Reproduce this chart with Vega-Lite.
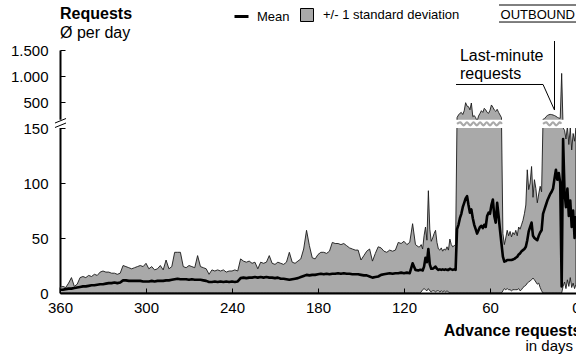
{
  "$schema": "https://vega.github.io/schema/vega-lite/v6.json",
  "width": 516,
  "height": 243,
  "autosize": {"type": "none"},
  "padding": {"left": 60, "top": 50, "right": 0, "bottom": 62},
  "background": "white",
  "config": {
    "font": "Liberation Sans",
    "view": {"stroke": null},
    "axis": {"grid": false, "domainColor": "black", "domainWidth": 2, "tickColor": "black", "tickWidth": 1, "tickSize": -5, "labelColor": "black", "labelFontSize": 15, "labelFont": "Liberation Sans", "labelBound": false, "labelOverlap": false, "labelFlush": false},
    "legend": {"labelFontSize": 13, "labelColor": "black", "labelFont": "Liberation Sans", "padding": 0, "title": null},
    "text": {"color": "black", "font": "Liberation Sans", "baseline": "alphabetic"},
    "rule": {"color": "black", "strokeWidth": 1}
  },
  "datasets": {
    "req": [
      {"d":360,"m":3,"hi":5,"lo":0},{"d":358,"m":3,"hi":6,"lo":0},{"d":356,"m":3.5,"hi":5,"lo":0},{"d":354,"m":4,"hi":9,"lo":0},
      {"d":352,"m":4,"hi":14,"lo":0},{"d":350,"m":4.5,"hi":6,"lo":0},{"d":348,"m":5,"hi":8,"lo":0},{"d":346,"m":5.5,"hi":14,"lo":0},
      {"d":344,"m":6,"hi":15,"lo":0},{"d":342,"m":6,"hi":14,"lo":0},{"d":340,"m":6.5,"hi":16,"lo":0},{"d":338,"m":7,"hi":15,"lo":0},
      {"d":336,"m":7,"hi":17,"lo":0},{"d":334,"m":7.5,"hi":16,"lo":0},{"d":332,"m":8,"hi":19,"lo":0},{"d":330,"m":8,"hi":20,"lo":0},
      {"d":328,"m":8.5,"hi":19,"lo":0},{"d":326,"m":9,"hi":19,"lo":0},{"d":324,"m":9,"hi":18,"lo":0},{"d":322,"m":9.5,"hi":18,"lo":0},
      {"d":320,"m":9,"hi":17,"lo":0},{"d":318,"m":9.5,"hi":18,"lo":0},{"d":316,"m":11.5,"hi":25,"lo":0},{"d":314,"m":11.5,"hi":24,"lo":0},
      {"d":312,"m":11,"hi":23,"lo":0},{"d":310,"m":11,"hi":22,"lo":0},{"d":308,"m":11,"hi":23,"lo":0},{"d":306,"m":11,"hi":24,"lo":0},
      {"d":304,"m":11,"hi":25,"lo":0},{"d":302,"m":10.5,"hi":24,"lo":0},{"d":300,"m":10.5,"hi":27,"lo":0},{"d":298,"m":10.5,"hi":22,"lo":0},
      {"d":296,"m":11,"hi":24,"lo":0},{"d":294,"m":10.5,"hi":21,"lo":0},{"d":292,"m":11,"hi":22,"lo":0},{"d":290,"m":11,"hi":25,"lo":0},
      {"d":288,"m":11,"hi":21,"lo":0},{"d":286,"m":11.5,"hi":30,"lo":0},{"d":284,"m":11.5,"hi":22,"lo":0},{"d":282,"m":12,"hi":24,"lo":0},
      {"d":280,"m":12.5,"hi":37,"lo":0},{"d":278,"m":13,"hi":37,"lo":0},{"d":276,"m":12.5,"hi":37,"lo":0},{"d":274,"m":12.5,"hi":24,"lo":0},
      {"d":272,"m":12.5,"hi":23,"lo":0},{"d":270,"m":12,"hi":25,"lo":0},{"d":268,"m":12.5,"hi":24,"lo":0},{"d":266,"m":12,"hi":23,"lo":0},
      {"d":264,"m":12,"hi":34,"lo":0},{"d":262,"m":12,"hi":24,"lo":0},{"d":260,"m":11.5,"hi":23,"lo":0},{"d":258,"m":11,"hi":22,"lo":0},
      {"d":256,"m":10,"hi":17,"lo":0},{"d":254,"m":10,"hi":21,"lo":0},{"d":252,"m":10.5,"hi":20,"lo":0},{"d":250,"m":10,"hi":21,"lo":0},
      {"d":248,"m":10.5,"hi":20,"lo":0},{"d":246,"m":10,"hi":21,"lo":0},{"d":244,"m":10.5,"hi":19,"lo":0},{"d":242,"m":10,"hi":20,"lo":0},
      {"d":240,"m":10.5,"hi":20,"lo":0},{"d":238,"m":10,"hi":21,"lo":0},{"d":236,"m":10.5,"hi":20,"lo":0},{"d":234,"m":13.5,"hi":31,"lo":0},
      {"d":232,"m":14,"hi":29,"lo":0},{"d":230,"m":13.5,"hi":28,"lo":0},{"d":228,"m":14,"hi":29,"lo":0},{"d":226,"m":14,"hi":27,"lo":0},
      {"d":224,"m":14.5,"hi":28,"lo":0},{"d":222,"m":14,"hi":22,"lo":0},{"d":220,"m":14.5,"hi":28,"lo":0},{"d":218,"m":14,"hi":27,"lo":0},
      {"d":216,"m":14.5,"hi":28,"lo":0},{"d":214,"m":14,"hi":34,"lo":0},{"d":212,"m":14,"hi":27,"lo":0},{"d":210,"m":13.5,"hi":26,"lo":0},
      {"d":208,"m":14,"hi":28,"lo":0},{"d":206,"m":13,"hi":27,"lo":0},{"d":204,"m":13,"hi":26,"lo":0},{"d":202,"m":12.5,"hi":28,"lo":0},
      {"d":200,"m":12,"hi":37,"lo":0},{"d":198,"m":12.5,"hi":28,"lo":0},{"d":196,"m":13,"hi":27,"lo":0},{"d":194,"m":13.5,"hi":29,"lo":0},
      {"d":192,"m":14.5,"hi":31,"lo":0},{"d":190,"m":15.5,"hi":40,"lo":0},{"d":188,"m":16.5,"hi":57,"lo":0},{"d":186,"m":16,"hi":43,"lo":0},
      {"d":184,"m":16.5,"hi":32,"lo":0},{"d":182,"m":16.5,"hi":31,"lo":0},{"d":180,"m":17,"hi":35,"lo":0},{"d":178,"m":17.5,"hi":37,"lo":0},
      {"d":176,"m":17,"hi":37,"lo":0},{"d":174,"m":17.5,"hi":36,"lo":0},{"d":172,"m":17,"hi":38,"lo":0},{"d":170,"m":17.5,"hi":46,"lo":0},
      {"d":168,"m":17.5,"hi":45,"lo":0},{"d":166,"m":18,"hi":45,"lo":0},{"d":164,"m":17.5,"hi":44,"lo":0},{"d":162,"m":18,"hi":45,"lo":0},
      {"d":160,"m":17.5,"hi":43,"lo":0},{"d":158,"m":17.5,"hi":41,"lo":0},{"d":156,"m":17,"hi":40,"lo":0},{"d":154,"m":17,"hi":39,"lo":0},
      {"d":152,"m":17,"hi":39,"lo":0},{"d":150,"m":16.5,"hi":30,"lo":0},{"d":148,"m":16,"hi":34,"lo":0},{"d":146,"m":16,"hi":38,"lo":0},
      {"d":144,"m":15,"hi":40,"lo":0},{"d":142,"m":14,"hi":29,"lo":0},{"d":140,"m":14.5,"hi":36,"lo":0},{"d":138,"m":15,"hi":42,"lo":0},
      {"d":136,"m":16.5,"hi":41,"lo":0},{"d":134,"m":17,"hi":38,"lo":0},{"d":132,"m":17.5,"hi":37,"lo":0},{"d":130,"m":18,"hi":39,"lo":0},
      {"d":128,"m":17.5,"hi":38,"lo":0},{"d":126,"m":18,"hi":39,"lo":0},{"d":124,"m":18,"hi":46,"lo":0},{"d":122,"m":18.5,"hi":45,"lo":0},
      {"d":120,"m":18,"hi":47,"lo":0},{"d":118,"m":18.5,"hi":44,"lo":0},{"d":116,"m":18,"hi":46,"lo":0},{"d":114,"m":27,"hi":63,"lo":0},
      {"d":112,"m":21,"hi":44,"lo":0},{"d":110,"m":20.5,"hi":42,"lo":0},
      {"d":109,"m":21,"hi":42,"lo":0},{"d":108,"m":21,"hi":44,"lo":1},{"d":107,"m":20.5,"hi":40,"lo":3},{"d":106,"m":24,"hi":52,"lo":4},
      {"d":105,"m":32,"hi":60,"lo":3},{"d":104,"m":28,"hi":48,"lo":2},{"d":103,"m":40,"hi":93,"lo":4},{"d":102,"m":26,"hi":58,"lo":2},
      {"d":101,"m":22,"hi":47,"lo":1},{"d":100,"m":22,"hi":50,"lo":2},{"d":99,"m":23,"hi":54,"lo":2},{"d":98,"m":24,"hi":57,"lo":1},
      {"d":97,"m":22,"hi":46,"lo":2},{"d":96,"m":21,"hi":40,"lo":2},{"d":95,"m":21.5,"hi":39,"lo":1},{"d":94,"m":21,"hi":41,"lo":2},
      {"d":93,"m":21.5,"hi":38,"lo":1},{"d":92,"m":21,"hi":40,"lo":2},{"d":91,"m":21.5,"hi":39,"lo":1},{"d":90,"m":21,"hi":42,"lo":2},
      {"d":89,"m":21,"hi":39,"lo":1},{"d":88,"m":22,"hi":49,"lo":0},{"d":87,"m":21.5,"hi":44,"lo":0},{"d":86,"m":21,"hi":42,"lo":0},
      {"d":85,"m":21.5,"hi":43,"lo":0},{"d":84,"m":21,"hi":44,"lo":0},
      {"d":83,"m":58,"hi":200,"lo":0},{"d":82,"m":62,"hi":250,"lo":0},{"d":81,"m":68,"hi":283,"lo":0},{"d":80,"m":72,"hi":300,"lo":0},
      {"d":79,"m":78,"hi":260,"lo":0},{"d":78,"m":82,"hi":330,"lo":0},{"d":77,"m":86,"hi":487,"lo":0},{"d":76,"m":88,"hi":420,"lo":0},
      {"d":75,"m":80,"hi":410,"lo":0},{"d":74,"m":73,"hi":350,"lo":0},{"d":73,"m":76,"hi":481,"lo":0},{"d":72,"m":68,"hi":218,"lo":0},
      {"d":71,"m":62,"hi":240,"lo":0},{"d":70,"m":58,"hi":200,"lo":0},{"d":69,"m":54,"hi":158,"lo":0},{"d":68,"m":57,"hi":230,"lo":0},
      {"d":67,"m":60,"hi":280,"lo":0},{"d":66,"m":61,"hi":333,"lo":0},{"d":65,"m":59,"hi":300,"lo":0},{"d":64,"m":62,"hi":379,"lo":0},
      {"d":63,"m":60,"hi":350,"lo":0},{"d":62,"m":70,"hi":300,"lo":0},{"d":61,"m":73,"hi":283,"lo":0},{"d":60,"m":72,"hi":340,"lo":0},
      {"d":59,"m":80,"hi":443,"lo":0},{"d":58,"m":85,"hi":400,"lo":0},{"d":57,"m":70,"hi":347,"lo":0},{"d":56,"m":64,"hi":320,"lo":0},
      {"d":55,"m":82,"hi":360,"lo":0},{"d":54,"m":70,"hi":300,"lo":0},{"d":53,"m":57,"hi":250,"lo":0},{"d":52,"m":45,"hi":200,"lo":0},
      {"d":51,"m":33,"hi":54,"lo":2},{"d":50,"m":28.5,"hi":44,"lo":4},{"d":49,"m":29,"hi":50,"lo":3},{"d":48,"m":30,"hi":57,"lo":4},
      {"d":47,"m":30,"hi":52,"lo":3},{"d":46,"m":30,"hi":56,"lo":3},{"d":45,"m":30,"hi":51,"lo":2},{"d":44,"m":30.5,"hi":55,"lo":3},
      {"d":43,"m":31,"hi":53,"lo":3},{"d":42,"m":32,"hi":57,"lo":3},{"d":41,"m":33,"hi":52,"lo":3},{"d":40,"m":35,"hi":60,"lo":4},
      {"d":39,"m":36,"hi":58,"lo":2},{"d":38,"m":38,"hi":62,"lo":3},{"d":37,"m":39,"hi":66,"lo":5},{"d":36,"m":40,"hi":72,"lo":6},
      {"d":35,"m":42,"hi":80,"lo":7},{"d":34,"m":48,"hi":112,"lo":9},{"d":33,"m":56,"hi":94,"lo":10},{"d":32,"m":60,"hi":100,"lo":11},
      {"d":31,"m":64,"hi":115,"lo":12},{"d":30,"m":52,"hi":87,"lo":13.6},{"d":29,"m":50,"hi":103,"lo":12},{"d":28,"m":49,"hi":95,"lo":10},
      {"d":27,"m":48,"hi":82,"lo":8},{"d":26,"m":52,"hi":90,"lo":9},{"d":25,"m":55,"hi":97,"lo":5},{"d":24,"m":57,"hi":92,"lo":2},
      {"d":23,"m":72,"hi":170,"lo":0},{"d":22,"m":76,"hi":175,"lo":0},{"d":21,"m":80,"hi":215,"lo":0},{"d":20,"m":84,"hi":240,"lo":0},
      {"d":19,"m":87,"hi":255,"lo":0},{"d":18,"m":90,"hi":262,"lo":0},{"d":17,"m":92,"hi":258,"lo":0},{"d":16,"m":95,"hi":250,"lo":0},
      {"d":15,"m":104,"hi":240,"lo":0},{"d":14,"m":112,"hi":225,"lo":0},{"d":13,"m":103,"hi":205,"lo":0},{"d":12,"m":109,"hi":192,"lo":0},
      {"d":11,"m":100,"hi":185,"lo":0},{"d":10,"m":6,"hi":1050,"lo":0},{"d":9,"m":140,"hi":150,"lo":6},{"d":8,"m":92,"hi":148,"lo":10},
      {"d":7,"m":78,"hi":140,"lo":4},{"d":6,"m":95,"hi":152,"lo":12},{"d":5,"m":70,"hi":135,"lo":6},{"d":4,"m":84,"hi":150,"lo":14},
      {"d":3,"m":60,"hi":130,"lo":5},{"d":2,"m":75,"hi":145,"lo":9},{"d":1,"m":50,"hi":138,"lo":4},{"d":0,"m":70,"hi":150,"lo":8}
    ],
    "wave": [
      {"d":83,"v":155,"part":"a"},{"d":80.7,"v":156.8,"part":"a"},{"d":78.4,"v":153.2,"part":"a"},{"d":76.1,"v":156.8,"part":"a"},
      {"d":73.8,"v":153.2,"part":"a"},{"d":71.5,"v":156.8,"part":"a"},{"d":69.2,"v":153.2,"part":"a"},{"d":66.9,"v":156.8,"part":"a"},
      {"d":64.6,"v":153.2,"part":"a"},{"d":62.3,"v":156.8,"part":"a"},{"d":60,"v":153.2,"part":"a"},{"d":57.7,"v":156.8,"part":"a"},
      {"d":55.4,"v":153.2,"part":"a"},{"d":53.1,"v":156.8,"part":"a"},{"d":51.7,"v":155,"part":"a"},
      {"d":23,"v":155,"part":"b"},{"d":20.7,"v":156.8,"part":"b"},{"d":18.4,"v":153.2,"part":"b"},{"d":16.1,"v":156.8,"part":"b"},
      {"d":13.8,"v":153.2,"part":"b"},{"d":11.5,"v":156.8,"part":"b"},{"d":10.3,"v":155,"part":"b"}
    ]
  },
  "layer": [
    {
      "data": {"name": "req"},
      "mark": {"type": "area", "stroke": "#1a1a1a", "strokeWidth": 0.9},
      "encoding": {
        "x": {
          "field": "d", "type": "quantitative",
          "scale": {"domain": [0, 360], "reverse": true, "nice": false, "zero": false},
          "axis": {
            "values": [360, 300, 240, 180, 120, 60, 0], "format": "d", "labelPadding": 12, "zindex": 1,
            "title": "Advance requests", "titleFontSize": 16, "titleFontWeight": "bold", "titleColor": "black", "titleFont": "Liberation Sans",
            "titleAnchor": "end", "titleAlign": "right", "titleBaseline": "alphabetic", "titleX": 521, "titleY": 42
          }
        },
        "y": {
          "field": "hi", "type": "quantitative",
          "scale": {"domain": [0, 150, 160, 1500], "range": [243, 78, 69.7, 0], "nice": false, "zero": false},
          "axis": {
            "values": [0, 50, 100, 150, 500, 1000, 1500], "labelPadding": 17, "zindex": 0, "title": null,
            "labelExpr": "datum.value >= 1000 ? replace(format(datum.value, ','), ',', '.') : datum.label"
          }
        },
        "y2": {"field": "lo"},
        "fill": {
          "datum": "+/- 1 standard deviation", "type": "nominal",
          "scale": {"range": ["#a9a9a9"]},
          "legend": {"orient": "none", "legendX": 240, "legendY": -42, "symbolType": "square", "symbolSize": 169, "symbolStrokeColor": "black", "symbolStrokeWidth": 1, "labelOffset": 9}
        }
      }
    },
    {
      "data": {"name": "req"},
      "mark": {"type": "line", "strokeWidth": 2.6, "strokeJoin": "round"},
      "encoding": {
        "x": {"field": "d", "type": "quantitative"},
        "y": {"field": "m", "type": "quantitative"},
        "stroke": {
          "datum": "Mean", "type": "nominal",
          "scale": {"range": ["black"]},
          "legend": {"orient": "none", "legendX": 173, "legendY": -42, "symbolType": "stroke", "symbolSize": 196, "symbolStrokeWidth": 3, "labelOffset": 7}
        }
      }
    },
    {
      "data": {"values": [{}]},
      "mark": {"type": "rect", "color": "white"},
      "encoding": {"x": {"datum": 362}, "x2": {"datum": 0}, "y": {"datum": 150}, "y2": {"datum": 160}}
    },
    {
      "data": {"name": "wave"},
      "mark": {"type": "line", "color": "#a9a9a9", "strokeWidth": 2.2, "interpolate": "cardinal"},
      "encoding": {
        "x": {"field": "d", "type": "quantitative"},
        "y": {"field": "v", "type": "quantitative"},
        "detail": {"field": "part"}
      }
    },
    {
      "data": {"values": [{}]},
      "layer": [
        {
          "mark": {"type": "rule"},
          "encoding": {"x": {"datum": 363.5}, "x2": {"datum": 355.8}, "y": {"datum": 156}, "y2": {"datum": 183}}
        },
        {
          "mark": {"type": "rule"},
          "encoding": {"x": {"datum": 363.5}, "x2": {"datum": 355.8}, "y": {"datum": 150.6}, "y2": {"datum": 156}}
        },
        {
          "mark": {"type": "rule"},
          "encoding": {"x": {"datum": 83.7}, "x2": {"datum": 23}, "y": {"datum": 837}, "y2": {"datum": 837}}
        },
        {
          "mark": {"type": "rule"},
          "encoding": {"x": {"datum": 23}, "x2": {"datum": 15}, "y": {"datum": 837}, "y2": {"datum": 346}}
        },
        {
          "mark": {"type": "rule"},
          "encoding": {"x": {"datum": 15}, "x2": {"datum": 15}, "y": {"datum": 1673}, "y2": {"datum": 346}}
        },
        {
          "mark": {"type": "text", "align": "left", "fontSize": 16},
          "encoding": {"x": {"datum": 81}, "y": {"datum": 1289}, "text": {"value": "Last-minute"}}
        },
        {
          "mark": {"type": "text", "align": "left", "fontSize": 16},
          "encoding": {"x": {"datum": 81}, "y": {"datum": 933}, "text": {"value": "requests"}}
        },
        {
          "mark": {"type": "text", "align": "left", "fontSize": 16, "fontWeight": "bold"},
          "encoding": {"x": {"datum": 360}, "y": {"datum": 2096}, "text": {"value": "Requests"}}
        },
        {
          "mark": {"type": "text", "align": "left", "fontSize": 16},
          "encoding": {"x": {"datum": 360}, "y": {"datum": 1731}, "text": {"value": "Ø per day"}}
        },
        {
          "mark": {"type": "text", "align": "right", "fontSize": 13, "dx": -1},
          "encoding": {"x": {"datum": 0}, "y": {"datum": 2096}, "text": {"value": "OUTBOUND"}}
        },
        {
          "mark": {"type": "rule"},
          "encoding": {"x": {"datum": 53.7}, "x2": {"datum": 0}, "y": {"datum": 2365}, "y2": {"datum": 2365}}
        },
        {
          "mark": {"type": "rule"},
          "encoding": {"x": {"datum": 53.7}, "x2": {"datum": 0}, "y": {"datum": 2038}, "y2": {"datum": 2038}}
        },
        {
          "mark": {"type": "text", "align": "right", "fontSize": 15, "dx": -3},
          "encoding": {"x": {"datum": 0}, "y": {"datum": -52.7}, "text": {"value": "in days"}}
        }
      ]
    }
  ]
}
